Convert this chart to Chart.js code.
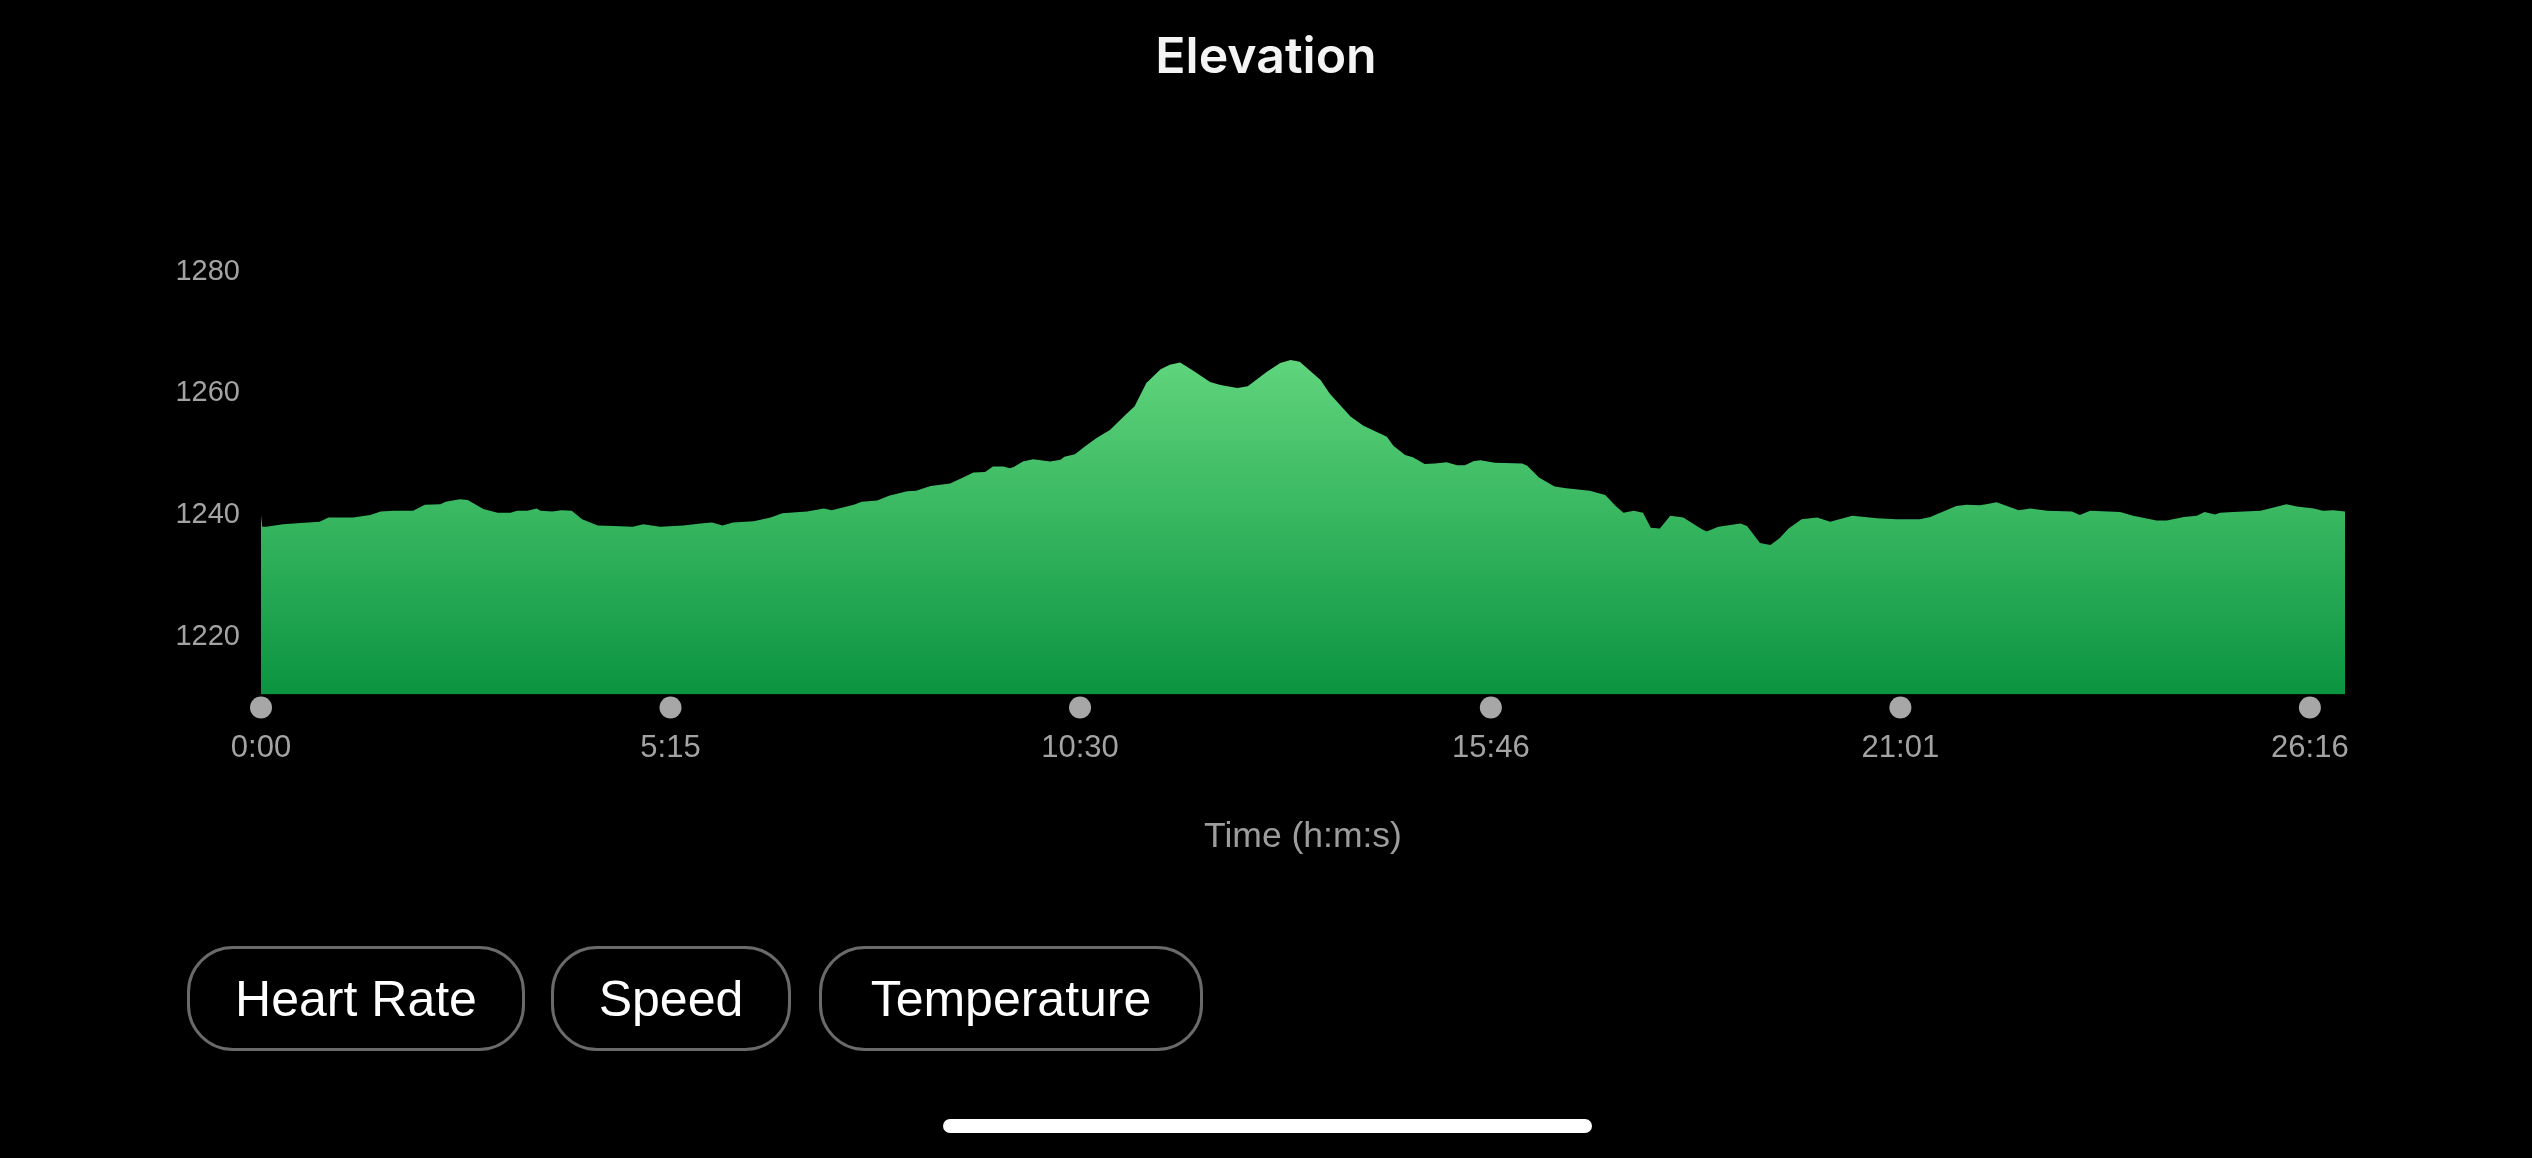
<!DOCTYPE html>
<html>
<head>
<meta charset="utf-8">
<title>Elevation</title>
<script src="https://cdn.jsdelivr.net/npm/chart.js@4.4.1/dist/chart.umd.min.js"></script>
<style>
  html, body { margin: 0; padding: 0; background: #000; width: 2532px; height: 1158px; overflow: hidden; }
  #wrap { position: absolute; left: 0; top: 0; width: 2532px; height: 1158px; }
  canvas { position: absolute; left: 0; top: 0; }
  .btn { position: absolute; top: 946px; height: 105px; box-sizing: border-box; border: 3px solid #6a6a6a;
         border-radius: 46px; color: #fff; font-family: "Liberation Sans", Arial, sans-serif; font-size: 50px;
         display: flex; align-items: center; justify-content: center; }
  #home { position: absolute; left: 943px; top: 1119px; width: 649px; height: 14px; border-radius: 7px; background: #fff; }
</style>
</head>
<body>
<div id="wrap">
  <canvas id="c" width="2532" height="1158"></canvas>
  <div class="btn" style="left:187px;width:338px;">Heart Rate</div>
  <div class="btn" style="left:551px;width:240px;">Speed</div>
  <div class="btn" style="left:819px;width:384px;">Temperature</div>
  <div id="home"></div>
</div>
<script>
// ---- data (time in seconds, elevation in metres) ----
const times = [
  0, 1, 4, 17, 25, 45, 52, 71, 84, 92, 102, 117, 126, 138, 142, 153, 159, 171, 182, 192, 197, 205, 212, 215, 224, 231, 239, 247,
  259, 271, 286, 294, 307, 325, 338, 347, 355, 363, 379, 392, 401, 420, 433, 439, 456, 462, 474, 483, 497, 504, 515, 530, 540,
  548, 557, 563, 571, 576, 579, 586, 594, 607, 615, 618, 626, 635, 643, 653, 665, 672, 681, 692, 699, 707, 718, 730, 738, 751,
  759, 774, 784, 792, 799, 815, 822, 838, 848, 866, 871, 880, 886, 895, 903, 912, 920, 926, 933, 938, 949, 970, 974, 983, 995,
  1004, 1022, 1034, 1042, 1048, 1056, 1063, 1069, 1076, 1084, 1094, 1108, 1112, 1121, 1138, 1143, 1153, 1161, 1168, 1175, 1185,
  1197, 1207, 1224, 1243, 1258, 1276, 1284, 1304, 1312, 1322, 1327, 1335, 1352, 1361, 1374, 1393, 1399, 1407, 1430, 1440, 1458,
  1466, 1479, 1489, 1495, 1503, 1507, 1517, 1538, 1545, 1558, 1566, 1579, 1586, 1594, 1603
];
const elevation = [
  1240.0, 1238.1, 1238.1, 1238.5, 1238.6, 1238.9, 1239.6, 1239.6, 1240.0, 1240.6, 1240.7, 1240.7, 1241.7, 1241.8, 1242.2, 1242.6,
  1242.5, 1241.0, 1240.4, 1240.4, 1240.7, 1240.7, 1241.1, 1240.7, 1240.6, 1240.8, 1240.7, 1239.3,
  1238.3, 1238.2, 1238.1, 1238.5, 1238.1, 1238.3, 1238.6, 1238.8, 1238.3, 1238.8, 1239.0, 1239.6, 1240.3, 1240.6, 1241.1, 1240.8,
  1241.7, 1242.2, 1242.4, 1243.2, 1243.9, 1244.0, 1244.8, 1245.2, 1246.2,
  1247.0, 1247.1, 1248.0, 1248.0, 1247.7, 1247.9, 1248.8, 1249.2, 1248.8, 1249.1, 1249.6, 1250.0, 1251.5, 1252.7, 1254.0, 1256.5,
  1257.9, 1261.7, 1264.0, 1264.7, 1265.1, 1263.6, 1261.9, 1261.4, 1260.9,
  1261.2, 1263.6, 1265.0, 1265.5, 1265.2, 1262.2, 1260.0, 1256.2, 1254.7, 1252.9, 1251.4, 1249.9, 1249.5, 1248.4, 1248.5, 1248.7,
  1248.2, 1248.2, 1248.9, 1249.0, 1248.6, 1248.5, 1248.1, 1246.2, 1244.7,
  1244.4, 1244.0, 1243.3, 1241.5, 1240.4, 1240.7, 1240.4, 1237.9, 1237.8, 1239.9, 1239.6, 1237.7, 1237.3, 1238.1, 1238.6, 1238.2,
  1235.4, 1235.1, 1236.2, 1237.8, 1239.3,
  1239.6, 1238.9, 1239.9, 1239.5, 1239.3, 1239.3, 1239.7, 1241.5, 1241.7, 1241.6, 1241.8, 1242.1, 1240.8, 1241.1, 1240.7, 1240.6,
  1240.0, 1240.7, 1240.5, 1239.9, 1239.1,
  1239.1, 1239.7, 1239.9, 1240.5, 1240.1, 1240.4, 1240.5, 1240.7, 1241.1, 1241.8, 1241.4, 1241.1, 1240.7, 1240.8, 1240.6
];
const xTickValues = [0, 315, 630, 946, 1261, 1576];
const xTickLabels = ['0:00', '5:15', '10:30', '15:46', '21:01', '26:16'];
const yTickValues = [1220, 1240, 1260, 1280];

const tickDots = {
  id: 'tickDots',
  afterDraw(chart) {
    const { ctx, chartArea, scales } = chart;
    ctx.save();
    ctx.fillStyle = '#a7a7a7';
    xTickValues.forEach(v => {
      const x = scales.x.getPixelForValue(v);
      ctx.beginPath();
      ctx.arc(x, chartArea.bottom + 13, 11, 0, Math.PI * 2);
      ctx.fill();
    });
    ctx.restore();
  }
};

Chart.defaults.font.family = '"Liberation Sans", Arial, sans-serif';

new Chart(document.getElementById('c'), {
  type: 'line',
  data: {
    datasets: [{
      label: 'Elevation',
      data: times.map((t, i) => ({ x: t, y: elevation[i] })),
      fill: 'start',
      borderWidth: 0,
      borderColor: 'rgba(0,0,0,0)',
      pointRadius: 0,
      tension: 0,
      backgroundColor: (c) => {
        const chart = c.chart;
        const area = chart.chartArea;
        if (!area) return '#2eb35a';
        const top = chart.scales.y.getPixelForValue(1266);
        const g = chart.ctx.createLinearGradient(0, top, 0, area.bottom);
        g.addColorStop(0, '#60d57d');
        g.addColorStop(1, '#0b9440');
        return g;
      }
    }]
  },
  options: {
    responsive: false,
    animation: false,
    devicePixelRatio: 1,
    layout: { padding: { left: 0, right: 0, top: 0, bottom: 263.5 } },
    plugins: {
      legend: { display: false },
      tooltip: { enabled: false },
      title: {
        display: true,
        text: 'Elevation',
        color: '#f4f4f4',
        font: { family: 'Inter, "Liberation Sans", sans-serif', size: 50, weight: '600' },
        padding: { top: 28, bottom: 123 }
      }
    },
    scales: {
      x: {
        type: 'linear',
        min: 0,
        max: 1603,
        grid: { display: false },
        border: { display: false },
        afterBuildTicks: (s) => { s.ticks = xTickValues.map(v => ({ value: v })); },
        afterFit: (s) => { s.height = 200; },
        ticks: {
          color: '#a3a3a3',
          font: { size: 31 },
          padding: 27,
          maxRotation: 0,
          autoSkip: false,
          callback: (v, i) => xTickLabels[i]
        },
        title: {
          display: true,
          text: 'Time (h:m:s)',
          color: '#9c9c9c',
          font: { size: 35.5 },
          padding: { top: 0, bottom: 36 }
        }
      },
      y: {
        min: 1210.5,
        max: 1290,
        grid: { display: false },
        border: { display: false },
        afterBuildTicks: (s) => { s.ticks = yTickValues.map(v => ({ value: v })); },
        afterFit: (s) => { s.width = 261; },
        ticks: {
          color: '#a3a3a3',
          font: { size: 29 },
          padding: 13,
          callback: (v) => String(v)
        }
      },
      yRight: {
        position: 'right',
        display: true,
        min: 0,
        max: 1,
        grid: { display: false },
        border: { display: false },
        ticks: { display: false },
        afterFit: (s) => { s.width = 187; }
      }
    }
  },
  plugins: [tickDots]
});
</script>
</body>
</html>
